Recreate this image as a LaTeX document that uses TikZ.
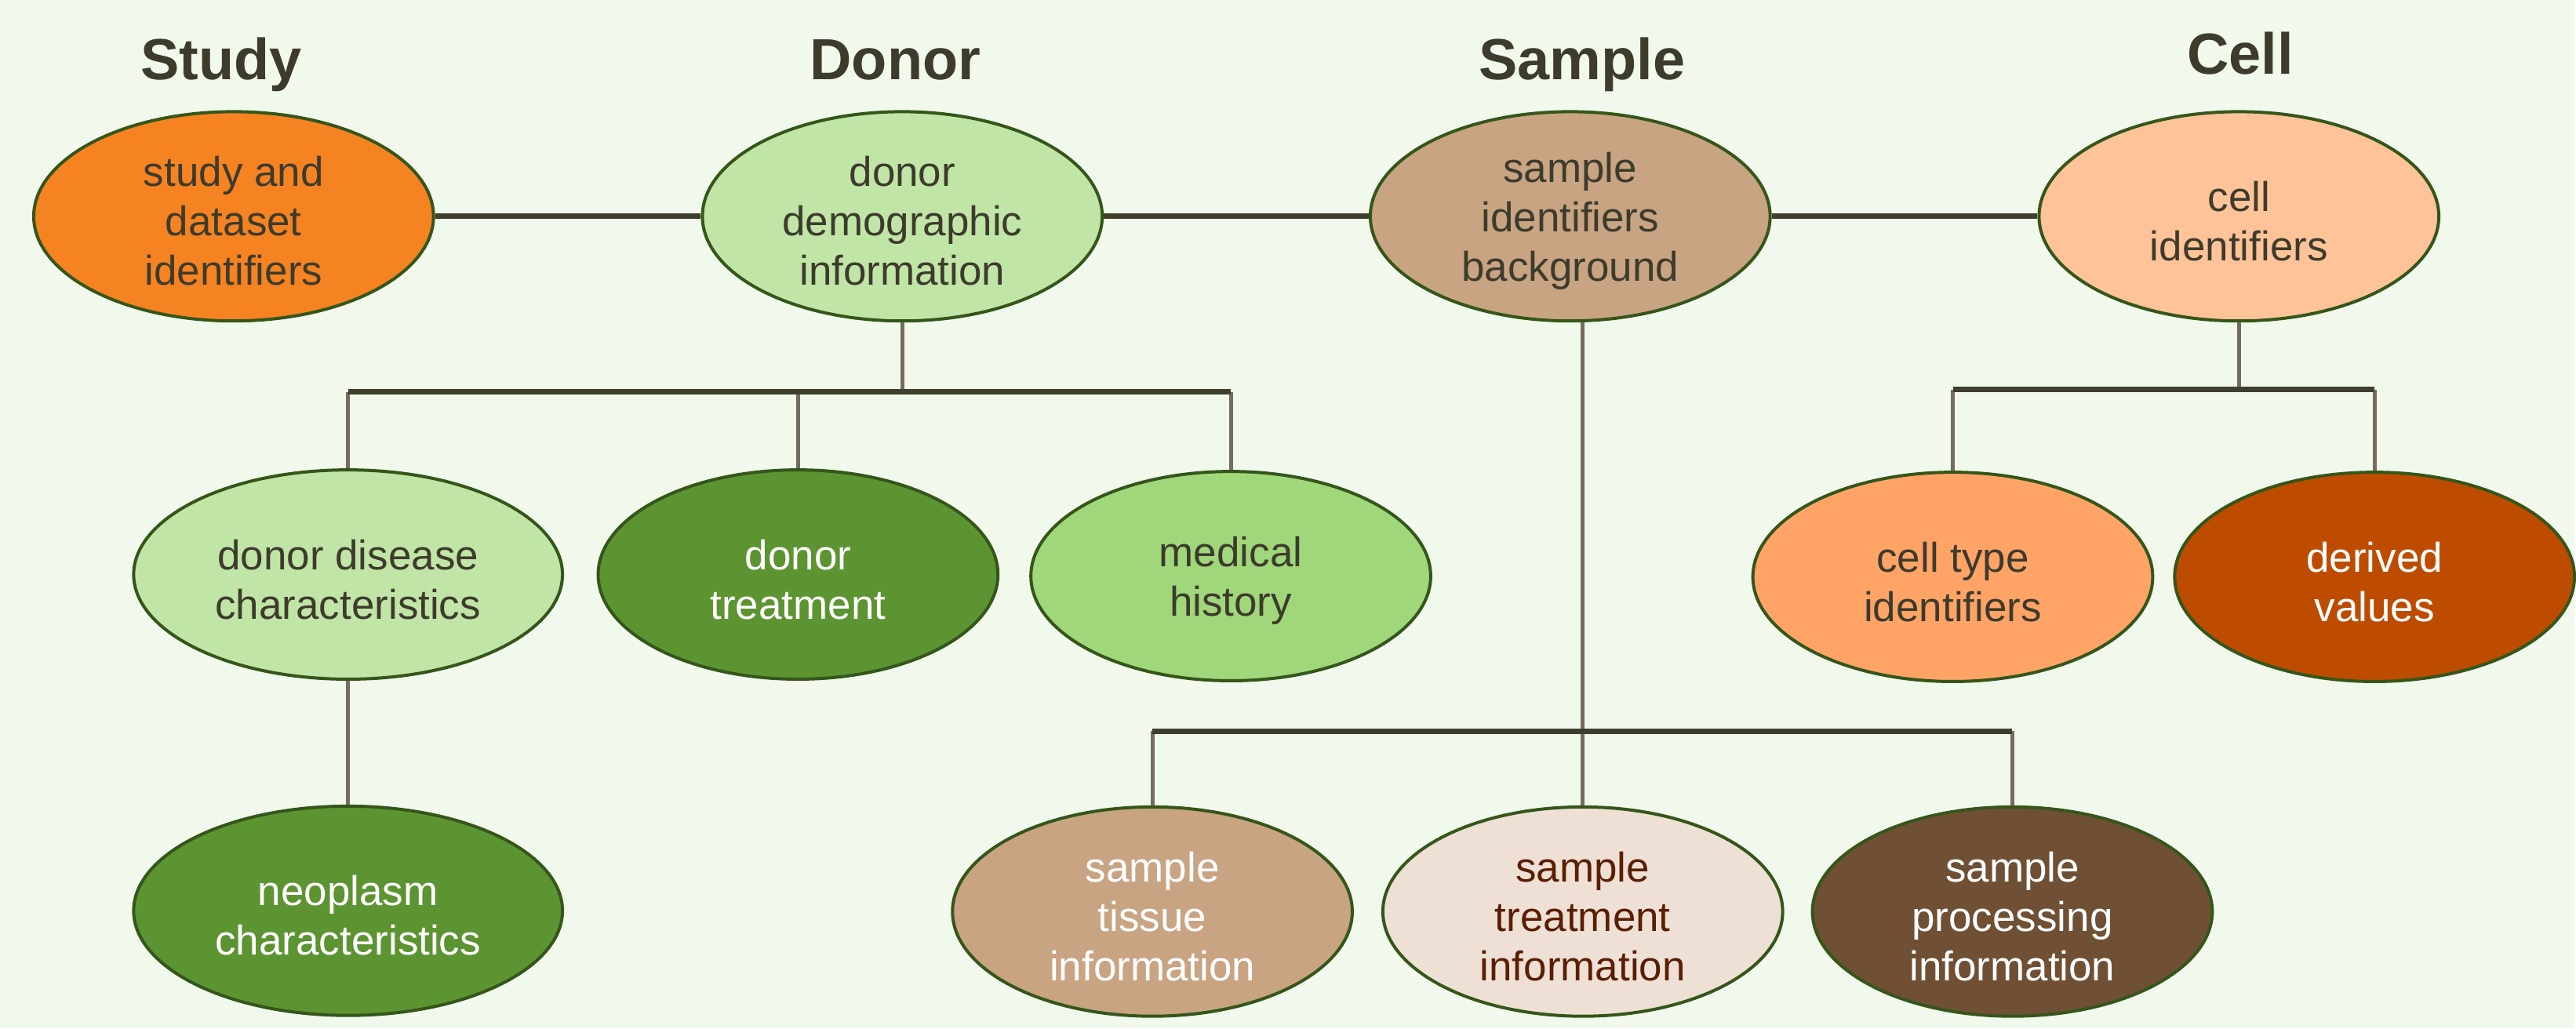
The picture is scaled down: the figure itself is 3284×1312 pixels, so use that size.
\documentclass[tikz,border=0pt]{standalone}
\usepackage{fontspec}
\setmainfont{Liberation Sans}
\usetikzlibrary{shapes.geometric}
\definecolor{bgcol}{HTML}{F1F9EC}
\definecolor{txtdark}{HTML}{3D3B2C}
\definecolor{rimgreen}{HTML}{35561A}
\definecolor{barcol}{HTML}{3F3F2E}
\definecolor{dropcol}{HTML}{756C5C}
\definecolor{studyorange}{HTML}{F58322}
\definecolor{donorgreen}{HTML}{C1E5A7}
\definecolor{treatgreen}{HTML}{5C9432}
\definecolor{histgreen}{HTML}{A0D77B}
\definecolor{sampletan}{HTML}{C8A482}
\definecolor{treatcream}{HTML}{EEE0D4}
\definecolor{treatbrown}{HTML}{5A1E02}
\definecolor{procbrown}{HTML}{6F5034}
\definecolor{cellpeach}{HTML}{FFC399}
\definecolor{typepeach}{HTML}{FFA466}
\definecolor{derivedrust}{HTML}{BE4C00}
\newcommand\lift{\rule{0pt}{12.7pt}}

\begin{document}
\begin{tikzpicture}[x=0.25pt,y=-0.25pt,every node/.style={align=center,text=txtdark,font=\fontsize{13.25}{15.75}\selectfont},blob/.style={draw=rimgreen,line width=1pt,shape=ellipse,inner sep=0pt,minimum width=127.5pt,minimum height=66.75pt},wide/.style={minimum width=136.75pt},title/.style={anchor=base,font=\fontsize{18.5}{22}\selectfont\bfseries},link/.style={line width=1.75pt,draw=barcol},bar/.style={line width=1.75pt,draw=barcol},drop/.style={line width=1.25pt,draw=dropcol}]
\fill[bgcol] (0,0) rectangle (3284,1312);
\node[title] (tstudy) at (282,102) {Study};
\node[title] (tdonor) at (1142,102) {Donor};
\node[title] (tsample) at (2018,102) {Sample};
\node[title] (tcell) at (2858,95) {Cell};
\node[blob,fill=studyorange] (study) at (298,276) {\lift study and\\dataset\\identifiers};
\node[blob,fill=donorgreen] (donor) at (1151,276) {\lift donor\\demographic\\information};
\node[blob,fill=sampletan] (sample) at (2003,276) {\lift sample\\identifiers\\background};
\node[blob,fill=cellpeach] (cell) at (2856,276) {\lift cell\\identifiers};
\node[blob,wide,fill=donorgreen] (ddisease) at (444,733) {\lift donor disease\\characteristics};
\node[blob,fill=treatgreen,text=white] (dtreat) at (1018,733) {\lift donor\\treatment};
\node[blob,fill=histgreen] (mhistory) at (1570,735) {\lift medical\\history};
\node[blob,wide,fill=treatgreen,text=white] (neoplasm) at (444,1162) {\lift neoplasm\\characteristics};
\node[blob,fill=sampletan,text=white] (stissue) at (1470,1163) {\lift sample\\tissue\\information};
\node[blob,fill=treatcream,text=treatbrown] (streat) at (2019,1163) {\lift sample\\treatment\\information};
\node[blob,fill=procbrown,text=white] (sproc) at (2567,1163) {\lift sample\\processing\\information};
\node[blob,fill=typepeach] (ctype) at (2491,736) {\lift cell type\\identifiers};
\node[blob,fill=derivedrust,text=white] (derived) at (3029,736) {\lift derived\\values};
\coordinate (dbar) at (0,500);
\coordinate (sbar) at (0,933);
\coordinate (cbar) at (0,497);
\draw[link] (study) -- (donor);
\draw[link] (donor) -- (sample);
\draw[link] (sample) -- (cell);
\draw[drop] (donor.south) -- (donor.south |- dbar);
\foreach \k in {ddisease,dtreat,mhistory} \draw[drop] (\k.north) -- (\k |- dbar);
\draw[bar] (ddisease |- dbar) -- (mhistory |- dbar);
\draw[drop] (ddisease.south) -- (neoplasm.north);
\draw[drop] (sample.south -| streat) -- (streat.north);
\foreach \k in {stissue,sproc} \draw[drop] (\k.north) -- (\k |- sbar);
\draw[bar] (stissue |- sbar) -- (sproc |- sbar);
\draw[drop] (cell.south) -- (cell.south |- cbar);
\foreach \k in {ctype,derived} \draw[drop] (\k.north) -- (\k |- cbar);
\draw[bar] (ctype |- cbar) -- (derived |- cbar);
\end{tikzpicture}
\end{document}
